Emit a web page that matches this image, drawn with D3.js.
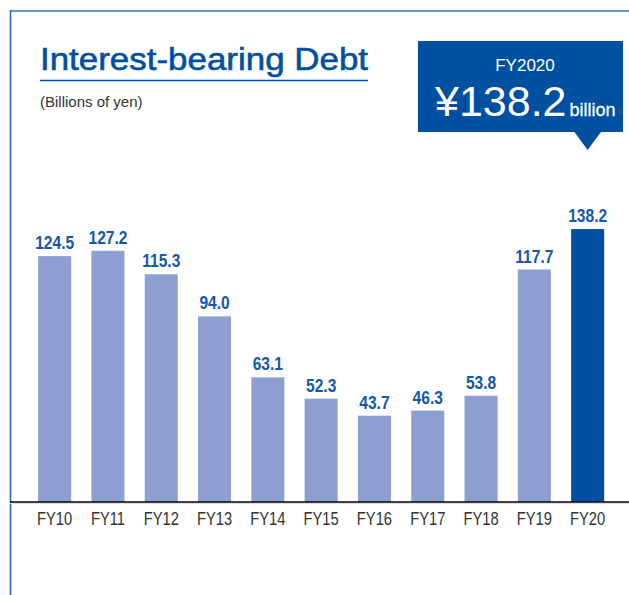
<!DOCTYPE html>
<html>
<head>
<meta charset="utf-8">
<script src="https://cdn.jsdelivr.net/npm/d3@7"></script>
<style>
  body { margin: 0; background: #fff; }
</style>
</head>
<body>
<div id="canvas"></div>
<script>
var w = 629;
var h = 595;

var years = ["FY10", "FY11", "FY12", "FY13", "FY14", "FY15", "FY16", "FY17", "FY18", "FY19", "FY20"];
var debt = [124.5, 127.2, 115.3, 94.0, 63.1, 52.3, 43.7, 46.3, 53.8, 117.7, 138.2];
var labels = ["124.5", "127.2", "115.3", "94.0", "63.1", "52.3", "43.7", "46.3", "53.8", "117.7", "138.2"];

var darkBlue = "#0050a2";
var lightBlue = "#8c9fd0";
var sans = "'Liberation Sans', Arial, sans-serif";
var squeeze = "scale(0.82,1)"; // fake a narrow face, no Arial Narrow here

var rows = years.map(function (y, i) {
    return { year: y, value: debt[i], label: labels[i] };
});

var canvas = d3.select("#canvas")
    .append("svg")
    .attr("width", w)
    .attr("height", h);

// frame lines top + left
canvas.append("line")
    .attr("x1", 10).attr("x2", w)
    .attr("y1", 11).attr("y2", 11)
    .attr("stroke", "#6f98d0")
    .attr("stroke-width", 2);
canvas.append("line")
    .attr("x1", 10.5).attr("x2", 10.5)
    .attr("y1", 10).attr("y2", h)
    .attr("stroke", "#1c63c4")
    .attr("stroke-width", 1.5);

// title
canvas.append("text")
    .attr("x", 40)
    .attr("y", 70)
    .text("Interest-bearing Debt")
    .attr("font-family", sans)
    .attr("font-size", "32px")
    .attr("textLength", 328)
    .attr("lengthAdjust", "spacingAndGlyphs")
    .attr("fill", darkBlue)
    .attr("stroke", darkBlue)
    .attr("stroke-width", 0.6);
canvas.append("line")
    .attr("x1", 40).attr("x2", 368)
    .attr("y1", 80.5).attr("y2", 80.5)
    .attr("stroke", darkBlue)
    .attr("stroke-width", 1.5);
canvas.append("text")
    .attr("x", 40)
    .attr("y", 107)
    .text("(Billions of yen)")
    .attr("font-family", sans)
    .attr("font-size", "15px")
    .attr("fill", "#333");

var xScale = d3.scaleBand()
    .domain(years)
    .range([28, 614.3])
    .paddingInner(0.38)
    .paddingOuter(0.19);

var yScale = d3.scaleLinear()
    .domain([0, 140])
    .range([502, 225.5]);

var bars = canvas.selectAll("rect.bar")
    .data(rows)
    .join("rect")
    .attr("class", "bar")
    .attr("x", function (d) { return xScale(d.year); })
    .attr("y", function (d) { return yScale(d.value); })
    .attr("width", xScale.bandwidth())
    .attr("height", function (d) { return yScale(0) - yScale(d.value); })
    .attr("fill", function (d, i) {
        if (i == rows.length - 1) {
            return darkBlue;
        }
        return lightBlue;
    });

var values = canvas.selectAll("text.val")
    .data(rows)
    .join("text")
    .attr("class", "val")
    .attr("transform", function (d) {
        var cx = xScale(d.year) + xScale.bandwidth() / 2;
        return "translate(" + cx + "," + (yScale(d.value) - 7) + ") " + squeeze;
    })
    .text(function (d) { return d.label; })
    .attr("font-family", sans)
    .attr("font-weight", "bold")
    .attr("font-size", "19px")
    .attr("fill", "#1557aa")
    .attr("text-anchor", "middle");

// baseline
canvas.append("line")
    .attr("x1", 10).attr("x2", w)
    .attr("y1", 503.5).attr("y2", 503.5)
    .attr("stroke", "#dcdcdc")
    .attr("stroke-width", 1);

var xAxis = canvas.append("g")
    .attr("transform", "translate(0," + 502 + ")")
    .call(d3.axisBottom(xScale).tickSize(0).tickPadding(10));
xAxis.select(".domain").remove();
xAxis.append("line")
    .attr("x1", 10).attr("x2", w)
    .attr("stroke", "#000")
    .attr("stroke-width", 1.3);
xAxis.selectAll("text")
    .attr("font-family", sans)
    .attr("font-size", "18px")
    .attr("fill", "#333")
    .attr("dy", "0.71em")
    .attr("transform", squeeze);

// FY2020 callout box
var lastX = xScale(years[years.length - 1]) + xScale.bandwidth() / 2;
canvas.append("rect")
    .attr("x", 418).attr("y", 41)
    .attr("width", 205).attr("height", 91)
    .attr("fill", darkBlue);
canvas.append("path")
    .attr("d", "M" + (lastX - 14) + ",131 L" + (lastX + 14) + ",131 L" + lastX + ",150 Z")
    .attr("fill", darkBlue);

canvas.append("text")
    .attr("x", 525)
    .attr("y", 71)
    .text("FY2020")
    .attr("font-family", sans)
    .attr("font-size", "17px")
    .attr("fill", "#fff")
    .attr("text-anchor", "middle");

var big = canvas.append("text")
    .attr("x", 435)
    .attr("y", 116)
    .attr("font-family", sans)
    .attr("fill", "#fff");
big.append("tspan")
    .attr("font-size", "43px")
    .text("¥138.2");
big.append("tspan")
    .attr("font-size", "18px")
    .attr("dx", 3)
    .attr("stroke", "#fff")
    .attr("stroke-width", 0.3)
    .text("billion");
</script>
</body>
</html>
